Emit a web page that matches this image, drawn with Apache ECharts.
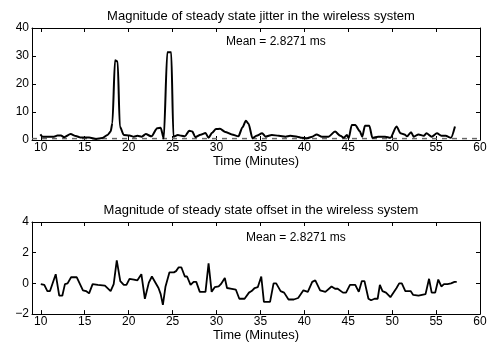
<!DOCTYPE html>
<html>
<head>
<meta charset="utf-8">
<script src="https://cdn.jsdelivr.net/npm/echarts@6/dist/echarts.min.js"></script>
<style>
  html, body { margin: 0; padding: 0; background: #fff; }
  #chart { width: 495px; height: 343px; }
</style>
</head>
<body>
<div id="chart"></div>
<script>
// jitter (top plot), minutes / ms
const jitterTime = [9.95, 10.2, 11.5, 11.9, 12.3, 12.65, 13.4, 14.0, 14.5, 15.5, 16.3, 17.0, 17.6, 17.95, 18.15, 18.45, 18.75, 19.0, 19.45, 20.1,
    20.6, 21.0, 21.5, 21.95, 22.6, 23.25, 23.65, 24.0, 24.4, 24.85, 25.1, 25.6, 26.0, 26.4, 26.9, 27.25, 27.6, 28.2, 28.75, 29.1,
    29.5, 29.95, 30.4, 31.0, 31.75, 32.5, 32.95, 33.35, 33.65, 34.1, 34.55, 35.2, 35.6, 36.3, 37.1, 37.85, 38.4, 39.2, 39.7, 40.3,
    40.9, 41.4, 42.0, 42.75, 43.5, 44.1, 44.5, 44.85, 45.05, 45.4, 45.8, 46.3, 46.6, 46.9, 47.4, 47.75, 48.4, 49.2, 49.8, 50.5,
    50.95, 51.4, 51.7, 52.15, 52.45, 53.0, 53.6, 53.9, 54.5, 55.1, 55.6, 56.1, 56.7, 57.15];
const jitterVal = [2.0, 1.2, 1.2, 1.6, 1.6, 1.0, 2.1, 1.4, 0.9, 0.9, 0.4, 0.7, 1.8, 3.0, 6.0, 28.5, 28.0, 4.8, 1.8, 1.6,
    1.2, 1.5, 1.2, 2.1, 1.3, 4.2, 4.4, 0.5, 31.3, 31.3, 1.2, 1.8, 1.5, 1.3, 3.3, 3.0, 1.0, 1.9, 2.5, 0.8,
    2.6, 3.9, 4.0, 2.9, 2.0, 1.3, 4.5, 6.9, 5.8, 0.6, 1.5, 2.4, 1.2, 1.8, 1.5, 1.2, 1.5, 1.2, 0.8, 0.6,
    1.2, 2.0, 1.2, 1.2, 3.0, 1.5, 0.8, 1.8, 0.6, 5.4, 5.4, 3.2, 1.2, 5.1, 5.1, 0.8, 1.2, 1.2, 0.8, 4.8,
    2.4, 2.0, 1.3, 2.8, 1.2, 2.0, 1.5, 2.4, 1.2, 2.4, 1.5, 1.5, 0.8, 4.8];

// offset (bottom plot)
const offsetTime = [10.0, 10.4, 10.75, 11.05, 11.7, 12.1, 12.45, 12.75, 13.05, 13.45, 14.1, 14.8, 15.15, 15.5, 15.9, 16.5, 17.3, 17.95, 18.3, 18.65,
    19.05, 19.45, 19.75, 20.1, 20.6, 21.0, 21.45, 21.85, 22.3, 22.65, 22.85, 23.4, 23.65, 23.9, 24.2, 24.65, 25.15, 25.4, 25.7, 26.0,
    26.4, 26.65, 27.05, 27.4, 27.7, 28.1, 28.75, 29.1, 29.45, 29.8, 30.25, 30.5, 30.95, 31.2, 31.75, 32.2, 32.6, 33.2, 33.7, 34.0,
    34.35, 34.7, 35.1, 35.4, 36.1, 36.5, 36.8, 37.3, 37.7, 38.2, 38.8, 39.3, 39.9, 40.4, 40.9, 41.25, 41.8, 42.4, 43.1, 43.5,
    43.8, 44.4, 44.75, 45.2, 45.8, 46.2, 46.55, 46.85, 47.3, 47.6, 48.0, 48.35, 48.6, 48.9, 49.3, 49.8, 50.0, 50.5, 50.8, 51.1,
    51.5, 52.1, 52.4, 53.0, 53.4, 53.8, 54.2, 54.5, 54.9, 55.25, 55.6, 55.9, 56.3, 56.7, 57.1, 57.35];
const offsetVal = [-0.05, -0.1, -0.5, -0.5, 0.6, -0.8, -0.8, -0.05, 0.0, 0.4, 0.4, -0.45, -0.5, -0.65, -0.05, -0.1, -0.15, -0.5, -0.05, 1.5,
    0.15, -0.1, -0.1, 0.3, 0.25, 0.2, 0.6, -1.0, 0.05, 0.45, 0.4, -0.3, -0.7, -1.4, -0.2, 0.72, 0.72, 0.8, 1.05, 1.05,
    0.45, 0.45, -0.1, 0.1, 0.1, -0.55, -0.55, 1.3, -0.55, -0.25, -0.2, -0.05, 0.35, -0.3, -0.35, -0.4, -1.0, -1.0, -0.6, -0.5,
    -0.3, -0.25, 0.45, -1.2, -1.2, 0.0, 0.0, -0.5, -0.6, -1.05, -1.05, -0.95, -0.45, -0.55, 0.1, 0.2, -0.45, -0.55, -0.2, -0.35,
    -0.35, -0.6, -0.6, -0.1, -0.1, -0.55, 0.15, 0.15, -1.0, -1.1, -1.0, -1.0, -0.1, -0.5, -0.6, -0.9, -0.9, -0.3, 0.0, 0.0,
    -0.5, -0.5, -0.75, -0.8, -0.75, -0.7, 0.3, -0.6, -0.6, 0.25, -0.2, -0.05, -0.05, 0.0, 0.1, 0.1];

const xTicks = [10, 15, 20, 25, 30, 35, 40, 45, 50, 55, 60];
const baseLine = [[9, 0.5], [60, 0.5]];   // dashed reference in top plot

const titles = ['Magnitude of steady state jitter in the wireless system', 'Magnitude of steady state offset in the wireless system'];
const meanText = 'Mean = 2.8271 ms';

const FONT = 'Liberation Sans, Arial, sans-serif';

function pairs(t, v) {
    return t.map((x, i) => [x, v[i]]);
}

function xAx(grid, top) {
    return {
        type: 'value', gridIndex: grid, min: 9, max: 60,
        position: top ? 'top' : 'bottom',
        name: top ? '' : 'Time (Minutes)',
        nameLocation: 'middle', nameGap: grid === 0 ? 15 : 12,
        nameTextStyle: { color: '#000', fontSize: 13, fontFamily: FONT },
        axisLine: { show: true, onZero: false, lineStyle: { color: '#000', width: 1 } },
        axisTick: { show: true, inside: true, length: 4, customValues: xTicks, lineStyle: { color: '#000' } },
        axisLabel: { show: !top, customValues: xTicks, color: '#000', fontSize: 12, fontFamily: FONT, margin: 2 },
        splitLine: { show: false }
    };
}

function yAx(grid, right, min, max, interval) {
    return {
        type: 'value', gridIndex: grid, min: min, max: max, interval: interval,
        position: right ? 'right' : 'left',
        axisLine: { show: true, onZero: false, lineStyle: { color: '#000', width: 1 } },
        axisTick: { show: true, inside: true, length: 4, lineStyle: { color: '#000' } },
        axisLabel: {
            show: !right, color: '#000', fontSize: 12, fontFamily: FONT, margin: 3,
            formatter: (v) => (v < 0 ? '\u2212' + Math.abs(v) : String(v))
        },
        splitLine: { show: false }
    };
}

const chart = echarts.init(document.getElementById('chart'));
chart.setOption({
    animation: false,
    backgroundColor: '#fff',
    title: [
        { text: titles[0], left: 256, top: 5, textAlign: 'center',
          textStyle: { fontSize: 13, fontWeight: 'normal', color: '#000', fontFamily: FONT } },
        { text: titles[1], left: 256, top: 199, textAlign: 'center',
          textStyle: { fontSize: 13, fontWeight: 'normal', color: '#000', fontFamily: FONT } }
    ],
    grid: [
        { left: 32, right: 15, top: 28, height: 112 },
        { left: 32, right: 15, top: 222, height: 94 }
    ],
    xAxis: [xAx(0, false), xAx(0, true), xAx(1, false), xAx(1, true)],
    yAxis: [yAx(0, false, 0, 40, 10), yAx(0, true, 0, 40, 10), yAx(1, false, -2, 4, 2), yAx(1, true, -2, 4, 2)],
    graphic: [
        { type: 'text', left: 226, top: 36, style: { text: meanText, fontSize: 12, fontFamily: FONT, fill: '#000' } },
        { type: 'text', left: 246, top: 232, style: { text: meanText, fontSize: 12, fontFamily: FONT, fill: '#000' } }
    ],
    series: [
        {
            type: 'line', xAxisIndex: 0, yAxisIndex: 0, data: baseLine, symbol: 'none', silent: true,
            lineStyle: { color: '#666', width: 1.5, type: [5, 5] }
        },
        {
            type: 'line', xAxisIndex: 0, yAxisIndex: 0, data: pairs(jitterTime, jitterVal),
            symbol: 'none', smooth: 0.25, smoothMonotone: 'x',
            lineStyle: { color: '#000', width: 2 }
        },
        {
            type: 'line', xAxisIndex: 2, yAxisIndex: 2, data: pairs(offsetTime, offsetVal),
            symbol: 'none', lineStyle: { color: '#000', width: 1.8 }
        }
    ]
});
</script>
</body>
</html>
